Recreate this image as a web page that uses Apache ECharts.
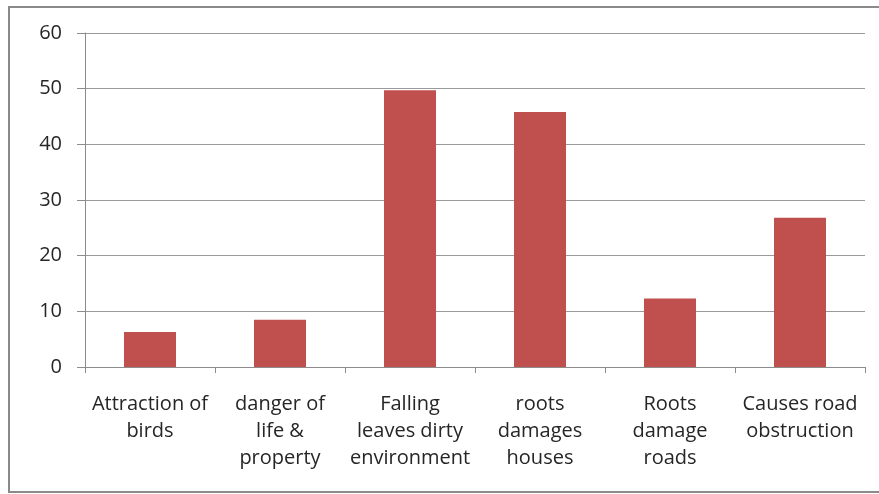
<!DOCTYPE html>
<html>
<head>
<meta charset="utf-8">
<script src="https://cdn.jsdelivr.net/npm/echarts@6/dist/echarts.min.js"></script>
<style>
  html, body { margin: 0; padding: 0; background: #fff; }
  #chart { width: 879px; height: 494px; }
</style>
</head>
<body>
<div id="chart"></div>
<script>
// Problems attributed to roadside trees
const categories = [
  'Attraction of\nbirds',
  'danger of\nlife &\nproperty',
  'Falling\nleaves dirty\nenvironment',
  'roots\ndamages\nhouses',
  'Roots\ndamage\nroads',
  'Causes road\nobstruction'
];
const values = [6.3, 8.5, 49.7, 45.8, 12.3, 26.8];
const yTicks = { min: 0, max: 60, interval: 10 };

const fontFamily = 'Open Sans, Lato, sans-serif';
const chart = echarts.init(document.getElementById('chart'), null, { renderer: 'canvas' });
chart.setOption({
  animation: false,
  backgroundColor: '#fff',
  graphic: [{
    type: 'rect',
    shape: { x: 9, y: 7, width: 900, height: 485 },
    style: { fill: 'none', stroke: '#8a8a8a', lineWidth: 2 },
    silent: true
  }],
  grid: { left: 85, right: 14, top: 33, bottom: 127, containLabel: false },
  xAxis: {
    type: 'category',
    data: categories,
    boundaryGap: true,
    axisLine: { lineStyle: { color: '#8c8c8c', width: 1 } },
    axisTick: { show: true, length: 6, lineStyle: { color: '#8c8c8c' } },
    axisLabel: {
      interval: 0,
      margin: 24,
      color: '#262626',
      fontSize: 20,
      lineHeight: 27,
      fontFamily: fontFamily,
      align: 'center'
    }
  },
  yAxis: {
    type: 'value',
    min: yTicks.min,
    max: yTicks.max,
    interval: yTicks.interval,
    axisLine: { show: true, lineStyle: { color: '#8c8c8c', width: 1 } },
    axisTick: { show: true, length: 8, lineStyle: { color: '#8c8c8c' } },
    splitLine: { lineStyle: { color: '#9a9a9a', width: 1 } },
    axisLabel: {
      margin: 23,
      color: '#262626',
      fontSize: 20,
      fontFamily: fontFamily
    }
  },
  series: [{
    type: 'bar',
    data: values,
    barWidth: 52,
    itemStyle: { color: '#C0504D' }
  }]
});
</script>
</body>
</html>
